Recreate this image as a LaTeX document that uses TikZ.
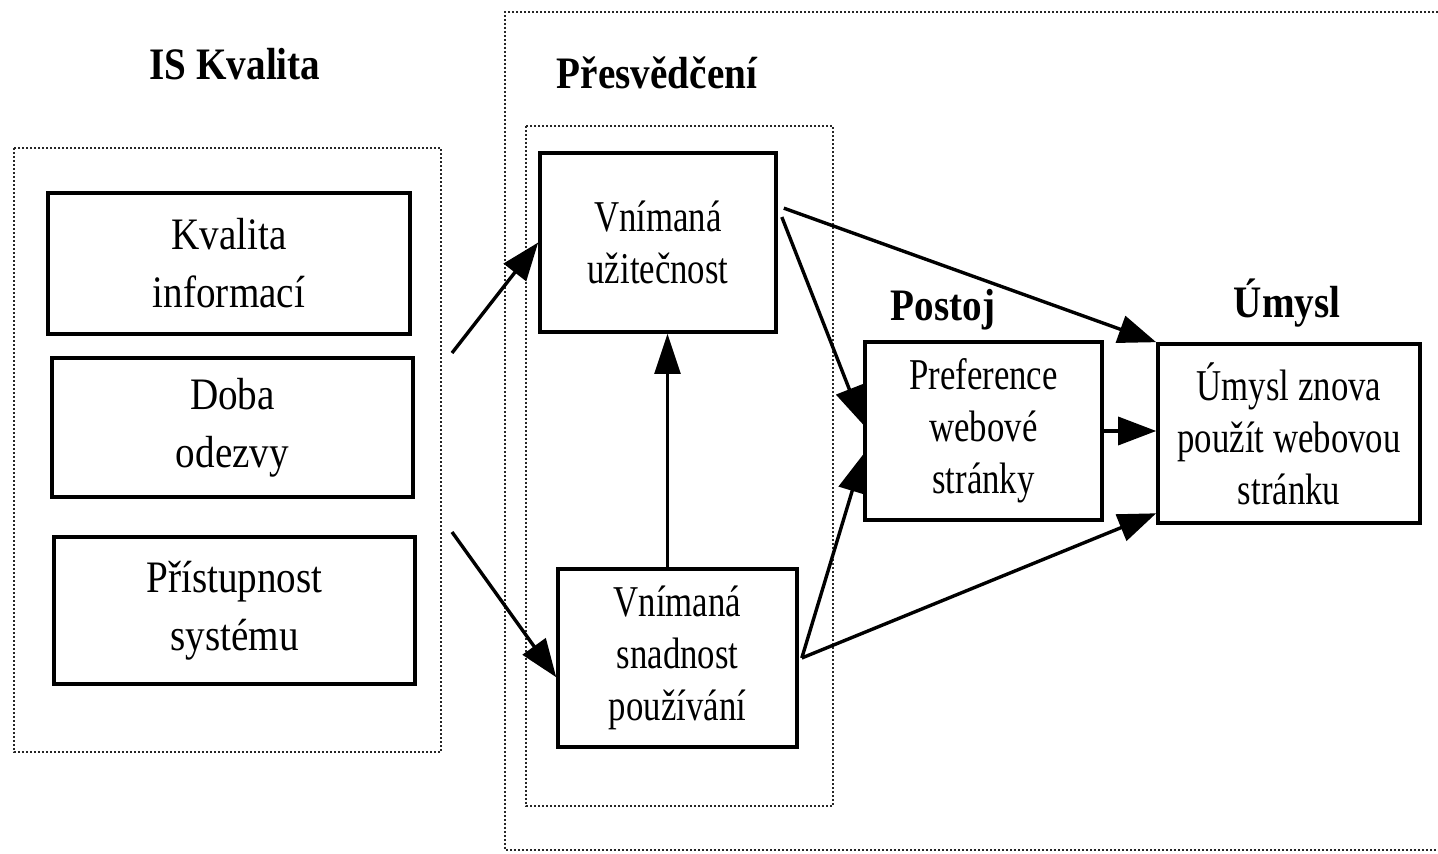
\documentclass[tikz,border=0pt]{standalone}
\usepackage{fontspec}
\setmainfont{Liberation Serif}[FakeStretch=0.87]
\newfontfamily\uzky{Liberation Serif}[FakeStretch=0.79]
\usetikzlibrary{arrows.meta}

\tikzset{
  box/.style={draw, line width=1.8pt, align=center, inner sep=0pt},
  mala/.style={font=\uzky\fontsize{22}{26}\selectfont},
  grp/.style={draw, line width=1.1pt, dash pattern=on 1.2pt off 0.8pt, black!85},
  arr/.style={line width=1.7pt, -{Triangle[length=19pt, width=14pt]}},
  ttl/.style={font=\bfseries, anchor=base},
}

\begin{document}
\begin{tikzpicture}[x=0.5pt, y=-0.5pt]
\fontsize{22.5}{29}\selectfont
\useasboundingbox (0,0) rectangle (1438,854);

% skupiny
\draw[grp] (14,148) rectangle (441,752);
\draw[grp] (1438,12) -- (505,12) -- (505,850) -- (1438,850);
\draw[grp] (526,126) rectangle (833,806);

\node[ttl] (tIS) at (235,80) {IS Kvalita};
\node[ttl] (tPres) at (657,89) {Přesvědčení};
\node[ttl] (tPost) at (943,321) {Postoj};
\node[ttl] (tUm) at (1287,318) {Úmysl};

% IS kvalita
\node[box, minimum width=181pt, minimum height=70.5pt] (kvalinf) at (229,263.5) {Kvalita\\informací};
\node[box, minimum width=180.5pt, minimum height=69.5pt] (doba) at (232.5,427.5) {Doba\\odezvy};
\node[box, minimum width=180.5pt, minimum height=73.5pt] (pristup) at (234.5,610.5) {Přístupnost\\systému};

% presvedceni
\node[box, mala, minimum width=118pt, minimum height=89.5pt] (uzit) at (658,242.5) {Vnímaná\\užitečnost};
\node[box, mala, minimum width=119.5pt, minimum height=89pt] (snad) at (677.5,658) {Vnímaná\\snadnost\\používání};

\node[box, mala, minimum width=118.5pt, minimum height=89pt] (pref) at (983.5,431) {Preference\\webové\\stránky};
\node[box, mala, minimum width=131pt, minimum height=89.5pt] (umysl) at (1289,433.5) {Úmysl znova\\použít webovou\\stránku};

\coordinate (odIS1) at (452,353);
\coordinate (odIS2) at (452,532);

\draw[arr] (odIS1) -- (uzit.west);
\draw[arr] (odIS2) -- (snad.189);
\draw[arr, line width=1.1pt, -{Triangle[length=20pt, width=13pt]}] ([xshift=-5pt]snad.north) -- ([xshift=-5pt]snad.north |- uzit.south);
\draw[arr] ([xshift=3pt]uzit.16) -- (umysl.north west);
\draw[arr] ([xshift=2pt]uzit.12) -- (pref.177);
\draw[arr] ([xshift=1.5pt]snad.east) -- (pref.191);
\draw[arr] ([xshift=1.5pt]snad.east) -- (umysl.211);
\draw[arr] (pref.east) -- (pref.east -| umysl.west);
\end{tikzpicture}
\end{document}
